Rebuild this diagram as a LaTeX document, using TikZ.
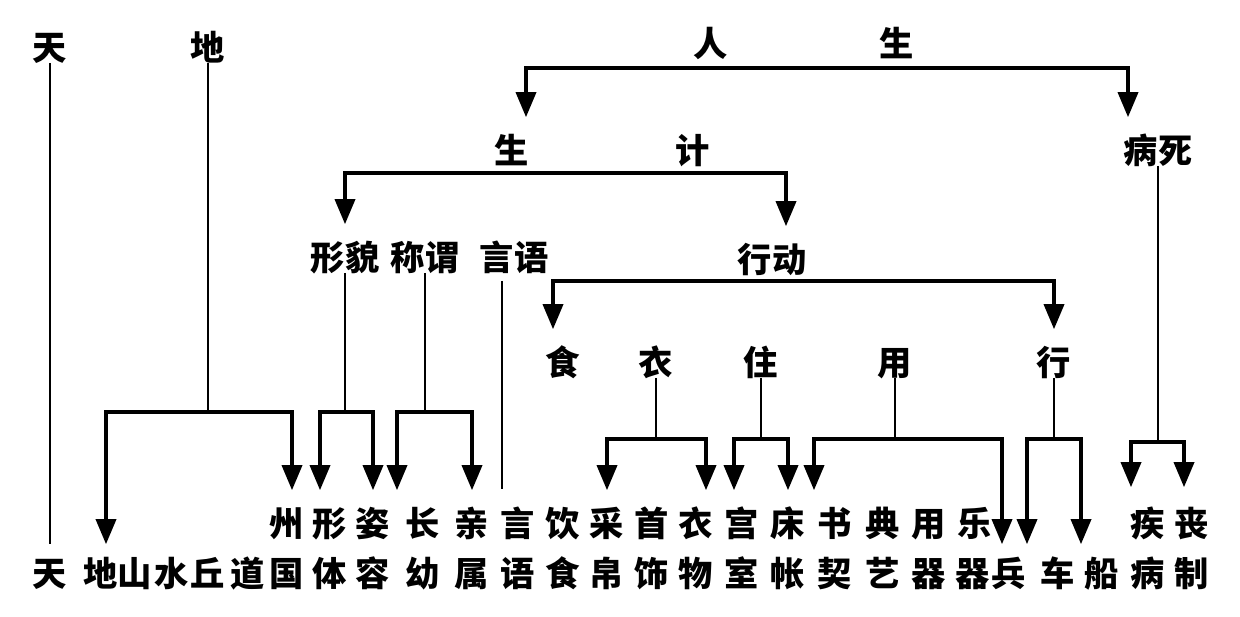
\documentclass[tikz,border=0pt]{standalone}
\usepackage{fontspec}
\newfontfamily\cjk{Noto Sans CJK SC}
\usetikzlibrary{calc,arrows.meta}

\begin{document}
\begin{tikzpicture}[x=0.02cm,y=-0.02cm,
  moji/.style={font=\cjk\bfseries\fontsize{19.5}{19.5}\selectfont,inner sep=0pt,text height=16.2pt,text depth=1.4pt},
  brk/.style={line width=2pt,{Triangle[width=0.4cm,length=0.5cm]}-{Triangle[width=0.4cm,length=0.5cm]},shorten <=0.34cm,shorten >=0.34cm},
  stem/.style={line width=0.7pt}]
\useasboundingbox (0,0) rectangle (1240,616);

%見出し
\node[moji] (tian1) at (50,47) {天};
\node[moji] (di1) at (208,47) {地};
\node[moji] (ren) at (711,43) {人};
\node[moji] (sheng) at (897,43) {生};
\node[moji] (sj1) at (512,150) {生};
\node[moji] (sj2) at (693,150) {计};
\node[moji] (bingsi) at (1158,150) {病死};
\node[moji] (xingmao) at (345,257) {形貌};
\node[moji] (chengwei) at (425,257) {称谓};
\node[moji] (yanyu) at (514,257) {言语};
\node[moji] (xingdong) at (772,259) {行动};
\node[moji] (shi) at (563,362) {食};
\node[moji] (yi) at (656,362) {衣};
\node[moji] (zhu) at (761,362) {住};
\node[moji] (yong) at (895,362) {用};
\node[moji] (xing) at (1054,362) {行};

%上段
\node[moji] (zhou) at (287,523) {州};
\node[moji] (xing2) at (330,523) {形};
\node[moji] (zi) at (373,523) {姿};
\node[moji] (zhang) at (423,523) {长};
\node[moji] (qin) at (472,523) {亲};
\node[moji] (yan) at (518,523) {言};
\node[moji] (yin) at (563,523) {饮};
\node[moji] (cai) at (607,523) {采};
\node[moji] (shou) at (652,523) {首};
\node[moji] (yi2) at (696,523) {衣};
\node[moji] (gong) at (742,523) {宫};
\node[moji] (chuang) at (788,523) {床};
\node[moji] (shu) at (835,523) {书};
\node[moji] (dian) at (883,523) {典};
\node[moji] (yong2) at (929,523) {用};
\node[moji] (yue) at (975,523) {乐};
\node[moji] (ji) at (1148,523) {疾};
\node[moji] (sang) at (1192,523) {丧};

%下段
\node[moji] (tian2) at (50,573) {天};
\node[moji] (di2) at (101,573) {地};
\node[moji] (shan) at (135,573) {山};
\node[moji] (shui) at (172,573) {水};
\node[moji] (qiu) at (208,573) {丘};
\node[moji] (dao) at (248,573) {道};
\node[moji] (guo) at (287,573) {国};
\node[moji] (ti) at (330,573) {体};
\node[moji] (rong) at (373,573) {容};
\node[moji] (you) at (423,573) {幼};
\node[moji] (zhu2) at (472,573) {属};
\node[moji] (yu) at (518,573) {语};
\node[moji] (shi2) at (563,573) {食};
\node[moji] (bo) at (607,573) {帛};
\node[moji] (shi3) at (652,573) {饰};
\node[moji] (wu) at (696,573) {物};
\node[moji] (shi4) at (742,573) {室};
\node[moji] (zhang2) at (788,573) {帐};
\node[moji] (qi) at (835,573) {契};
\node[moji] (yi3) at (883,573) {艺};
\node[moji] (qi2) at (929,573) {器};
\node[moji] (qi3) at (973,573) {器};
\node[moji] (bing) at (1009,573) {兵};
\node[moji] (che) at (1058,573) {车};
\node[moji] (chuan) at (1102,573) {船};
\node[moji] (bing2) at (1148,573) {病};
\node[moji] (zhi) at (1192,573) {制};

%分岐点
\coordinate (k1) at (827,68);
\coordinate (k2) at (560,173);
\coordinate (k3) at (800,281);
\coordinate (j1) at (208,412);
\coordinate (j2) at (345,412);
\coordinate (j3) at (425,412);
\coordinate (j4) at (656,439);
\coordinate (j5) at (761,439);
\coordinate (j6) at (895,439);
\coordinate (j7) at (1054,439);
\coordinate (j8) at (1158,442);

%細線
\draw[stem] (tian1) -- ($(tian2.north)+(0,-13)$); %天
\draw[stem] (di1) -- (j1); %地
\draw[stem] (xingmao) -- (j2); %形貌
\draw[stem] (chengwei) -- (j3); %称谓
\draw[stem] ($(yanyu.south)+(-12,8)$) -- ($(yan.north)+(-16,-18)$); %言语
\draw[stem] (yi) -- (j4); %衣
\draw[stem] (zhu) -- (j5); %住
\draw[stem] (yong) -- (j6); %用
\draw[stem] (xing) -- (j7); %行
\draw[stem] (bingsi) -- (j8); %病死

%括弧
\draw[brk] ($(sj1.north)+(14,0)$) |- (k1) -| ($(bingsi.north)+(-30,0)$); %人生
\draw[brk] (xingmao) |- (k2) -| ($(xingdong.north)+(14,0)$); %生计
\draw[brk] ($(shi.north)+(-10,0)$) |- (k3) -| (xing); %行动
\draw[brk,shorten <=0.26cm] ($(di2.north)+(5,0)$) |- (j1) -| ($(zhou.north)+(5,0)$); %地
\draw[brk] ($(xing2.north)+(-10,0)$) |- (j2) -| (zi); %形貌
\draw[brk] ($(zhang.north)+(-26,0)$) |- (j3) -| (qin); %称谓
\draw[brk] (cai) |- (j4) -| ($(yi2.north)+(10,0)$); %衣
\draw[brk] ($(gong.north)+(-8,0)$) |- (j5) -| (chuang); %住
\draw[brk,shorten >=0.26cm] ($(shu.north)+(-21,0)$) |- (j6) -| ($(bing.north)+(-7,0)$); %用
\draw[brk,shorten <=0.26cm,shorten >=0.26cm] ($(che.north)+(-31,0)$) |- (j7) -| ($(chuan.north)+(-21,0)$); %行
\draw[brk,shorten <=0.4cm,shorten >=0.4cm] ($(ji.north)+(-17,0)$) |- (j8) -| ($(sang.north)+(-8,0)$); %病死
\end{tikzpicture}
\end{document}
